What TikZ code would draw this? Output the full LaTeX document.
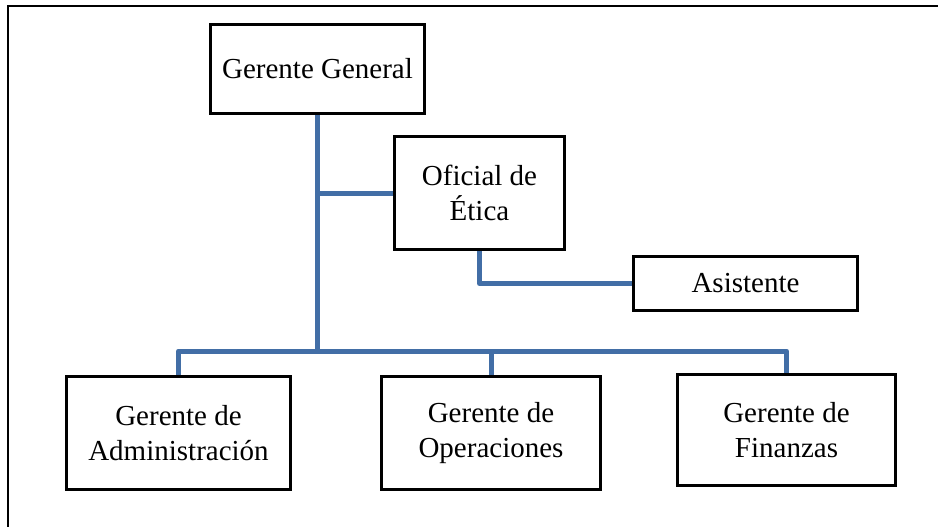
\documentclass[tikz,border=0pt]{standalone}
\usepackage{fontspec}
\setmainfont{Liberation Serif}
\definecolor{linkblue}{RGB}{66,110,166}
\begin{document}
\begin{tikzpicture}[x=1pt,y=-1pt,
  box/.style={draw=black,line width=2pt,fill=white,inner sep=0pt,align=center,
    font=\fontsize{29}{35}\selectfont},
  link/.style={draw=linkblue,line width=5pt,line join=round}]
\useasboundingbox (0,0) rectangle (938,527);
\fill[white] (0,0) rectangle (938,527);
\draw[line width=2.5pt] (8,527) -- (8,6) -- (938,6);
% links first (under boxes)
\coordinate (b) at (318,351);
\node[box,minimum width=213pt,minimum height=88pt] (gg) at (317.5,69) {Gerente General};
\node[box,minimum width=169pt,minimum height=112pt] (et) at (479.5,193) {Oficial de\\Ética};
\node[box,minimum width=223pt,minimum height=53pt] (as) at (745.5,283.5) {Asistente};
\node[box,minimum width=223pt,minimum height=112pt] (ad) at (178.5,433) {Gerente de\\Administración};
\node[box,minimum width=218pt,minimum height=112pt] (op) at (491,433) {Gerente de\\Operaciones};
\node[box,minimum width=217pt,minimum height=110pt] (fi) at (786.5,430) {Gerente de\\Finanzas};
\begin{scope}[on background layer/.style={}]
\draw[link] (gg.south) -- (gg.south |- b);
\draw[link] (et.west) -- (et.west -| gg.south);
\draw[link] (et.south) |- (as.west);
\draw[link] (ad.north) -- (ad.north |- b) -- (fi.north |- b) -- (fi.north);
\draw[link] (op.north) -- (op.north |- b);
\end{scope}
\foreach \n in {gg,et,as,ad,op,fi} \draw[line width=2pt] (\n.north west) rectangle (\n.south east);
\end{tikzpicture}
\end{document}
